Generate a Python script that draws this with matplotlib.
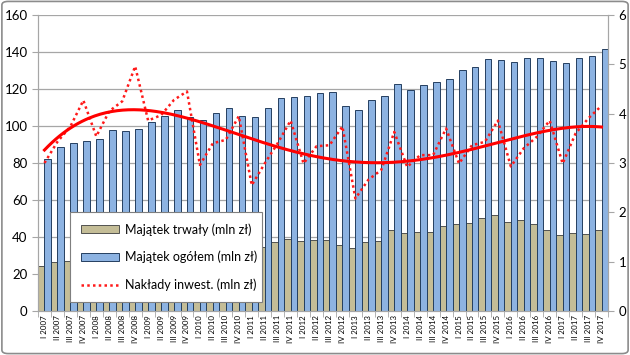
import numpy as np
import matplotlib
matplotlib.use("Agg")
import matplotlib.pyplot as plt
from matplotlib.patches import FancyBboxPatch

plt.rcParams['font.family'] = ['Lato', 'DejaVu Sans']

# quarters I 2007 .. IV 2017
years = list(range(2007, 2018))
quarters = ["I", "II", "III", "IV"]
labels = [q + " " + str(y) for y in years for q in quarters]

# Majątek trwały (mln zł) - IV 2007 .. I 2011 hidden behind legend, estimated
trwaly = [24.5, 26.6, 26.8, 28, 29, 30, 31, 32, 33, 33, 34, 34, 35, 35, 34, 35,
          35, 34.8, 37.1, 38.7, 37.7, 38.4, 38.4, 35.5, 34.1, 37.1, 37.7, 44.0,
          42.2, 42.9, 42.7, 45.9, 47.0, 47.6, 50.3, 51.9, 48.1, 49.2, 47.0,
          44.0, 40.9, 42.2, 41.8, 43.8]

# Majątek ogółem (mln zł)
ogolem = [82.3, 88.8, 90.6, 92.1, 92.9, 97.7, 97.1, 98.4, 102.0, 105.2, 108.6,
          105.0, 103.2, 106.9, 109.6, 105.4, 104.7, 109.7, 115.1, 115.5, 116.0,
          117.8, 118.4, 110.8, 108.5, 114.1, 116.2, 122.7, 119.4, 122.0, 123.8,
          125.4, 130.1, 131.9, 136.4, 135.7, 134.6, 136.8, 136.8, 135.1, 134.1,
          136.8, 137.7, 141.8]

# Nakłady inwest. (mln zł), right axis
naklady = [3.00, 3.43, 3.74, 4.27, 3.54, 4.05, 4.25, 4.96, 3.86, 3.97, 4.28,
           4.45, 2.96, 3.40, 3.47, 3.95, 2.55, 2.99, 3.40, 3.86, 2.99, 3.34,
           3.36, 3.74, 2.28, 2.66, 2.86, 3.63, 2.92, 3.16, 3.16, 3.70, 2.99,
           3.36, 3.43, 3.86, 2.93, 3.30, 3.53, 3.86, 2.99, 3.60, 3.91, 4.16]

x = np.arange(len(labels))

fig = plt.figure(figsize=(6.3, 3.55), dpi=100)
ax = fig.add_axes([38 / 630, 1 - 311 / 355, 570 / 630, 296 / 355])
ax2 = ax.twinx()

grid_c = '#a6a6a6'
ax.set_axisbelow(True)
ax.yaxis.grid(True, color=grid_c, lw=0.9)

b1 = ax.bar(x - 0.25, trwaly, width=0.5, color='#c4bd97', edgecolor='#3c3c3c',
            lw=0.6, label='Majątek trwały (mln zł)')
b2 = ax.bar(x + 0.25, ogolem, width=0.5, color='#8db3e2', edgecolor='#243f60',
            lw=0.7, label='Majątek ogółem (mln zł)')

ax.set_xlim(-0.5, len(labels) - 0.5)
ax.set_ylim(0, 160)
ax.set_yticks(range(0, 161, 20))
ax.set_xticks(x)
ax.set_xticklabels(labels, rotation=90, fontsize=5.7)
ax.set_xticks(np.arange(-0.5, len(labels), 1), minor=True)
ax.tick_params(axis='x', which='major', length=0, pad=3)
ax.tick_params(axis='x', which='minor', length=4, color=grid_c)
ax.tick_params(axis='y', labelsize=9.5, length=4, color=grid_c)

# trend line of investment outlays (polynomial fit)
coef = np.polyfit(x, naklady, 4)
xs = np.linspace(0, len(labels) - 1, 300)
l1, = ax2.plot(x, naklady, color='#ff1a1a', ls=(0, (1, 1.3)), lw=1.8,
               label='Nakłady inwest. (mln zł)')
ax2.plot(xs, np.polyval(coef, xs), color='#ff0000', lw=2.2)
ax2.set_ylim(0, 6)
ax2.set_yticks(range(0, 7))
ax2.tick_params(axis='y', labelsize=9.5, length=4, color=grid_c)

for a in (ax, ax2):
    a.spines['top'].set_visible(False)
    for s in ('left', 'right', 'bottom'):
        a.spines[s].set_color(grid_c)

leg = ax2.legend(handles=[b1, b2, l1], loc='lower left',
                 bbox_to_anchor=(70 / 630, 1 - 302 / 355, 192 / 630, 97 / 355),
                 bbox_transform=fig.transFigure, mode='expand', borderaxespad=0,
                 fontsize=9, handlelength=3.0, handleheight=0.6,
                 handletextpad=0.5, labelspacing=1.2, fancybox=False,
                 framealpha=1, edgecolor='#7f7f7f', borderpad=0.9)
leg.get_frame().set_linewidth(0.8)

border = FancyBboxPatch((0.003, 0.004), 0.994, 0.992, boxstyle='round,pad=0,rounding_size=0.01',
                        transform=fig.transFigure, fill=False, ec='#8c8c8c', lw=1.2)
fig.patches.append(border)

fig.savefig('out.png', dpi=100)
